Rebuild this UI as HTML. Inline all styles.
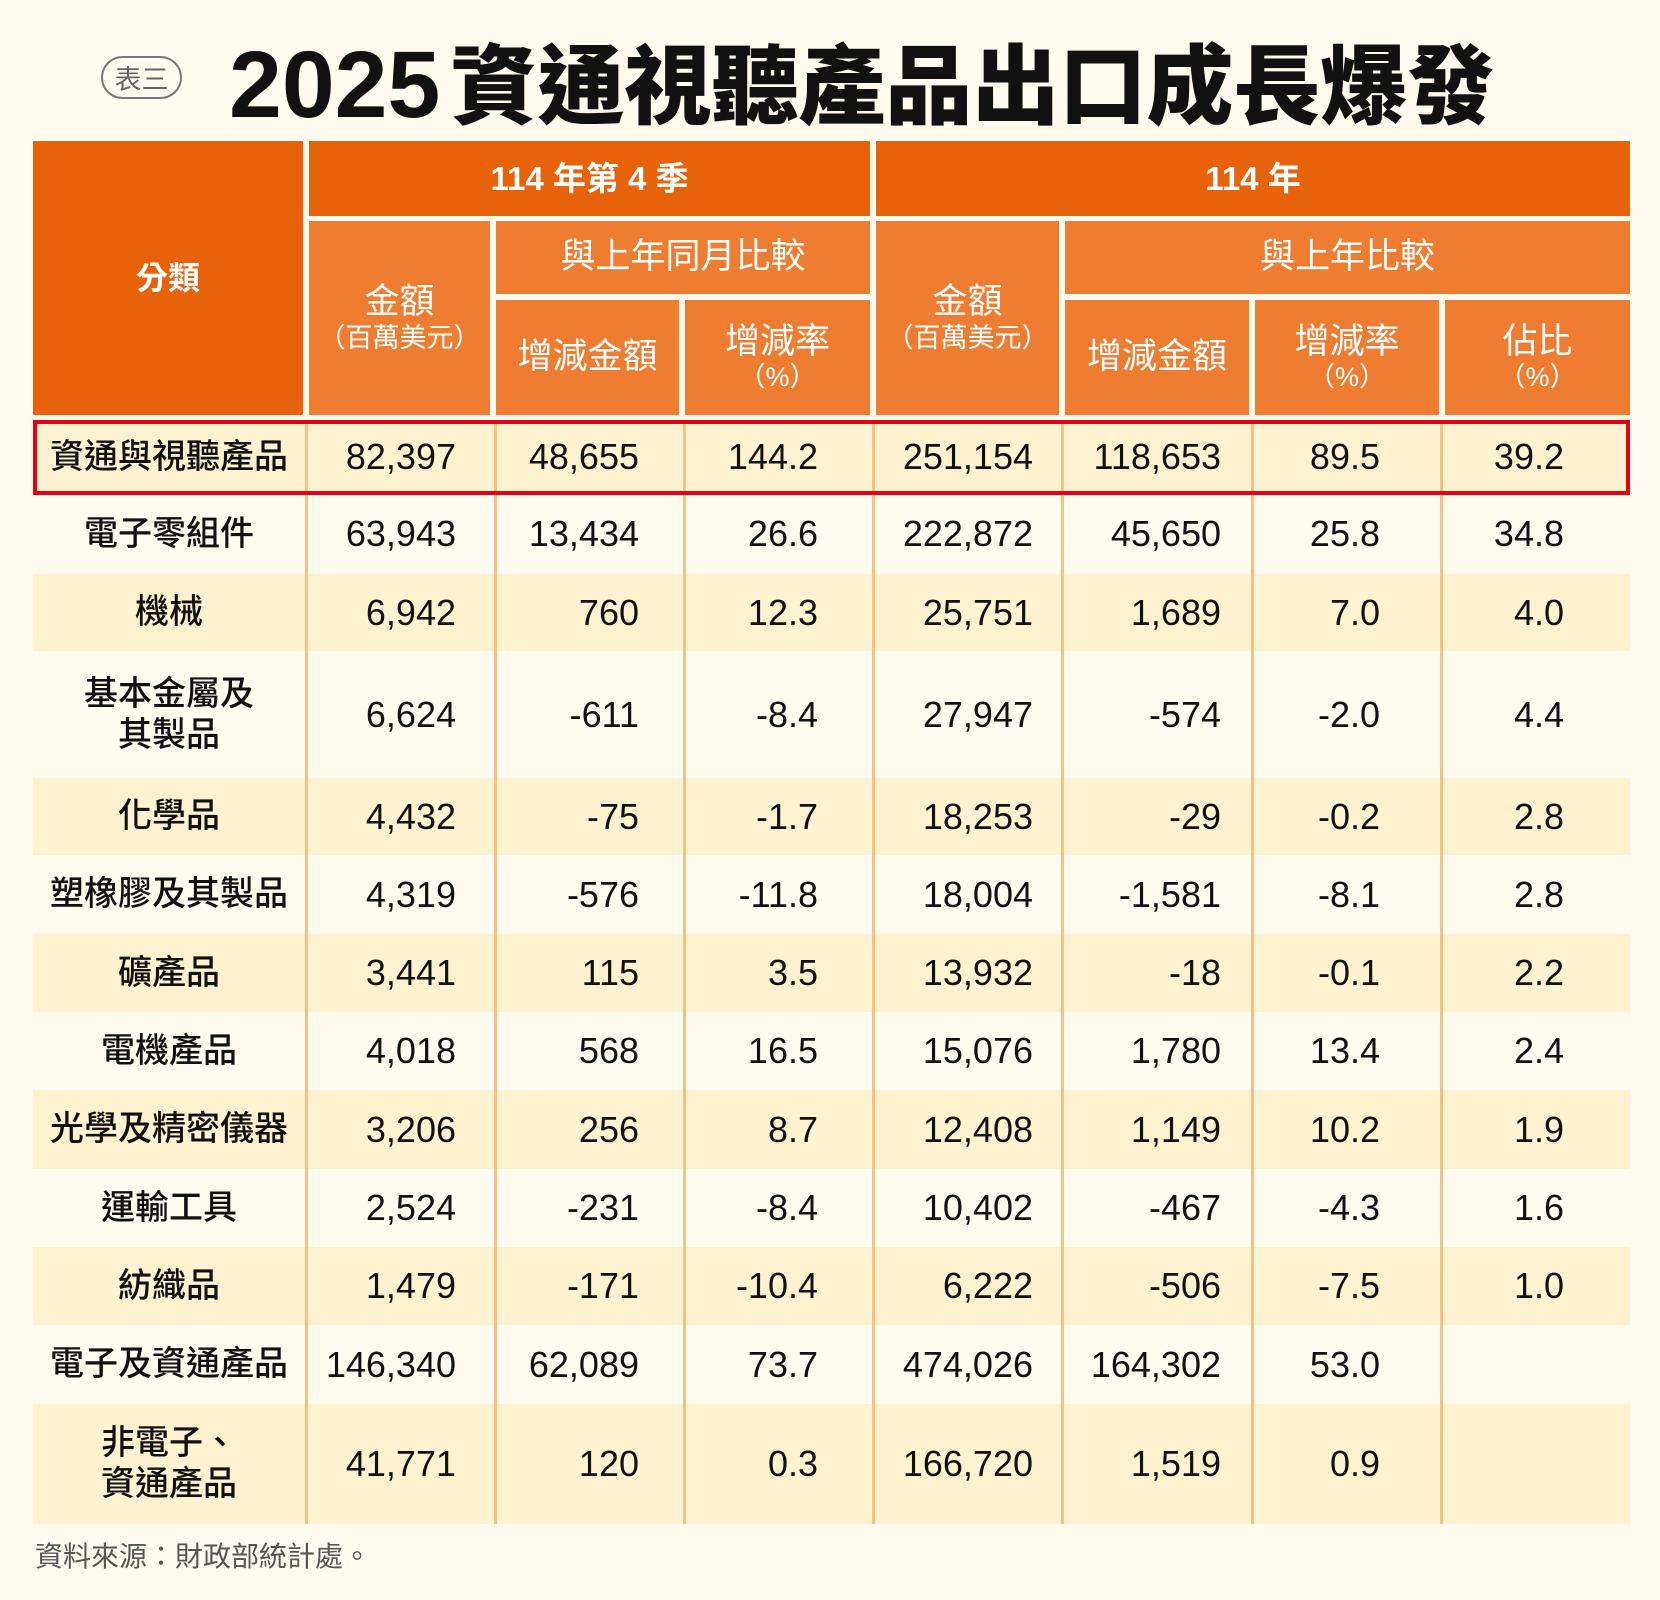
<!DOCTYPE html>
<html><head><meta charset="utf-8"><style>
*{margin:0;padding:0;box-sizing:border-box}
body{width:1660px;height:1600px;background:#FFFCEF;position:relative;overflow:hidden;font-family:"Liberation Sans","Noto Sans CJK TC",sans-serif;color:#111}
.a{position:absolute}
.h{position:absolute;display:flex;flex-direction:column;align-items:center;justify-content:center;color:#fff;text-align:center;line-height:1.15}
.d{background:#E8620A}
.l{background:#EE7D32}
.row{position:absolute;left:33px;width:1597px}
.c{position:absolute;top:0;height:100%;display:flex;align-items:center;font-size:36px}
.cat{left:0;width:272px;justify-content:center;text-align:center;font-size:34px;line-height:1.2;font-weight:500}
.vl{position:absolute;top:420px;height:1104px;width:3px;background:#F2C384}
.s{font-size:27px}
</style></head><body>
<div class="a" style="left:101px;top:56px;width:81px;height:43px;border:2px solid #777;border-radius:22px;color:#666;font-size:27px;display:flex;align-items:center;justify-content:center">表三</div>
<div class="a" style="left:229px;top:25px;white-space:nowrap;font-weight:bold;line-height:110px"><span style="font-size:95px;font-family:'Liberation Sans',sans-serif">2025</span><span style="font-size:87px;font-family:'Noto Sans CJK TC',sans-serif;font-weight:900;margin-left:10px">資通視聽產品出口成長爆發</span></div>

<div class="h d" style="left:33px;top:141px;width:270px;height:274px;font-size:32px;font-weight:bold">分類</div>
<div class="h d" style="left:309px;top:141px;width:561px;height:75px;font-size:33px;font-weight:bold">114 年第 4 季</div>
<div class="h d" style="left:876px;top:141px;width:754px;height:75px;font-size:33px;font-weight:bold">114 年</div>
<div class="h l" style="left:309px;top:221px;width:181px;height:194px;font-size:35px">金額<span class="s">（百萬美元）</span></div>
<div class="h l" style="left:496px;top:221px;width:374px;height:73px;font-size:35px">與上年同月比較</div>
<div class="h l" style="left:496px;top:300px;width:183px;height:115px;font-size:35px">增減金額</div>
<div class="h l" style="left:685px;top:300px;width:185px;height:115px;font-size:35px">增減率<span class="s">（%）</span></div>
<div class="h l" style="left:876px;top:221px;width:183px;height:194px;font-size:35px">金額<span class="s">（百萬美元）</span></div>
<div class="h l" style="left:1065px;top:221px;width:565px;height:73px;font-size:35px">與上年比較</div>
<div class="h l" style="left:1065px;top:300px;width:184px;height:115px;font-size:35px">增減金額</div>
<div class="h l" style="left:1255px;top:300px;width:184px;height:115px;font-size:35px">增減率<span class="s">（%）</span></div>
<div class="h l" style="left:1445px;top:300px;width:185px;height:115px;font-size:35px">佔比<span class="s">（%）</span></div>

<div id="rows"></div>
<div class="vl" style="left:305px"></div><div class="vl" style="left:494px"></div><div class="vl" style="left:683px"></div><div class="vl" style="left:872px"></div><div class="vl" style="left:1061px"></div><div class="vl" style="left:1251px"></div><div class="vl" style="left:1440px"></div>
<div class="a" style="left:33px;top:420px;width:1597px;height:75px;border:4px solid #E60012"></div>
<div class="a" style="left:35px;top:1535px;font-size:28px;color:#555">資料來源：財政部統計處。</div>
<script>
var tops=[420,494,574,651,778,855,934,1012,1090,1169,1247,1325,1404,1524];
var data=[
["資通與視聽產品","82,397","48,655","144.2","251,154","118,653","89.5","39.2"],
["電子零組件","63,943","13,434","26.6","222,872","45,650","25.8","34.8"],
["機械","6,942","760","12.3","25,751","1,689","7.0","4.0"],
["基本金屬及<br>其製品","6,624","-611","-8.4","27,947","-574","-2.0","4.4"],
["化學品","4,432","-75","-1.7","18,253","-29","-0.2","2.8"],
["塑橡膠及其製品","4,319","-576","-11.8","18,004","-1,581","-8.1","2.8"],
["礦產品","3,441","115","3.5","13,932","-18","-0.1","2.2"],
["電機產品","4,018","568","16.5","15,076","1,780","13.4","2.4"],
["光學及精密儀器","3,206","256","8.7","12,408","1,149","10.2","1.9"],
["運輸工具","2,524","-231","-8.4","10,402","-467","-4.3","1.6"],
["紡織品","1,479","-171","-10.4","6,222","-506","-7.5","1.0"],
["電子及資通產品","146,340","62,089","73.7","474,026","164,302","53.0",""],
["非電子、<br>資通產品","41,771","120","0.3","166,720","1,519","0.9",""]];
var rights=[456,639,818,1033,1221,1380,1564];
var h="";
for(var i=0;i<data.length;i++){
 var t=tops[i],hh=tops[i+1]-t;
 h+='<div class="row" style="top:'+t+'px;height:'+hh+'px;background:'+(i%2==0?'#FFF2D0':'#FFFCEF')+'">';
 h+='<div class="c cat">'+data[i][0]+'</div>';
 for(var j=0;j<7;j++){h+='<div class="c" style="right:'+(1630-rights[j])+'px">'+data[i][j+1]+'</div>';}
 h+='</div>';
}
document.getElementById('rows').innerHTML=h;
</script>
</body></html>
